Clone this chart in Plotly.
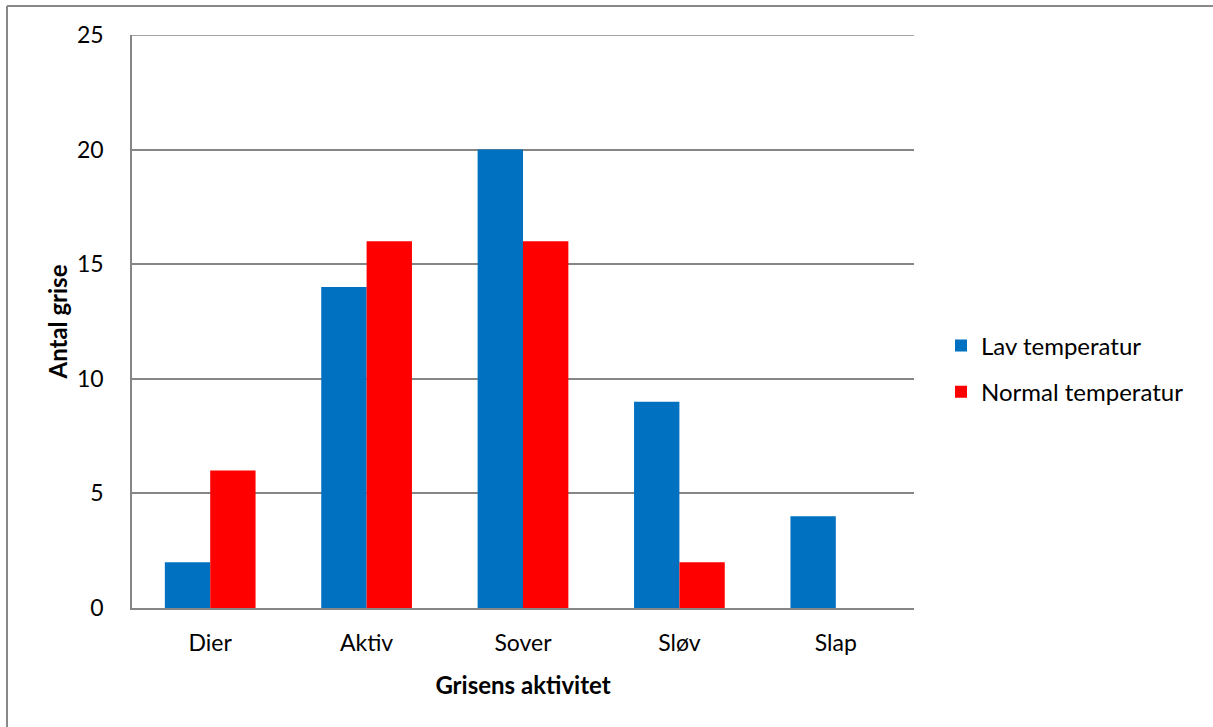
import plotly.graph_objects as go

categories = ["Dier", "Aktiv", "Sover", "Sløv", "Slap"]
lav_temperatur = [2, 14, 20, 9, 4]
normal_temperatur = [6, 16, 16, 2, 0]
y_ticks = [0, 5, 10, 15, 20, 25]

FONT = "Lato, 'Open Sans', sans-serif"
GRID = "#868686"

fig = go.Figure()
fig.add_trace(go.Bar(name="Lav temperatur", x=categories, y=lav_temperatur,
                     marker=dict(color="#0070C0", line=dict(width=0)),
                     legendgroup="a"))
fig.add_trace(go.Bar(name="Normal temperatur", x=categories, y=normal_temperatur,
                     marker=dict(color="#FF0000", line=dict(width=0)),
                     legendgroup="b"))

L, R, T, B = 132, 299, 35, 119
W, H = 1213, 727
pw, ph = W - L - R, H - T - B


def px_x(p):
    return (p - L) / pw


def px_y(p):
    return (H - B - p) / ph


fig.update_layout(
    width=W, height=H,
    margin=dict(l=L, r=R, t=T, b=B, pad=0),
    paper_bgcolor="white", plot_bgcolor="white",
    font=dict(family=FONT, size=24, color="#000000"),
    barmode="group", bargap=0.42, bargroupgap=0,
    showlegend=True,
    legend=dict(x=px_x(941), y=px_y(369), xanchor="left", yanchor="middle",
                traceorder="grouped", tracegroupgap=12, itemwidth=30,
                font=dict(family=FONT, size=24), bgcolor="rgba(0,0,0,0)"),
    xaxis=dict(showline=True, linecolor=GRID, linewidth=1.5,
               showgrid=False, ticks="", ticklabelstandoff=14,
               tickfont=dict(size=23),
               title=dict(text="<b>Grisens aktivitet</b>", standoff=22,
                          font=dict(family=FONT, size=24))),
    yaxis=dict(range=[0, 25], tickvals=y_ticks, showline=True, linecolor=GRID,
               linewidth=1.5, showgrid=True, gridcolor=GRID, gridwidth=1.5,
               ticks="", ticklabelstandoff=22, zeroline=False,
               tickfont=dict(size=23),
               title=dict(text="<b>Antal grise</b>", standoff=3,
                          font=dict(family=FONT, size=24))),
    shapes=[
        # top gridline at the upper end of the value range
        dict(type="line", xref="paper", yref="y", x0=0, x1=1, y0=25, y1=25,
             line=dict(color=GRID, width=1.5)),
        # outer chart border (top and left edges)
        dict(type="line", xref="paper", yref="paper",
             x0=px_x(7), x1=px_x(1230), y0=px_y(6), y1=px_y(6),
             line=dict(color="#898989", width=2)),
        dict(type="line", xref="paper", yref="paper",
             x0=px_x(7), x1=px_x(7), y0=px_y(6), y1=px_y(740),
             line=dict(color="#898989", width=2)),
    ],
)

fig.write_html("out.html")
